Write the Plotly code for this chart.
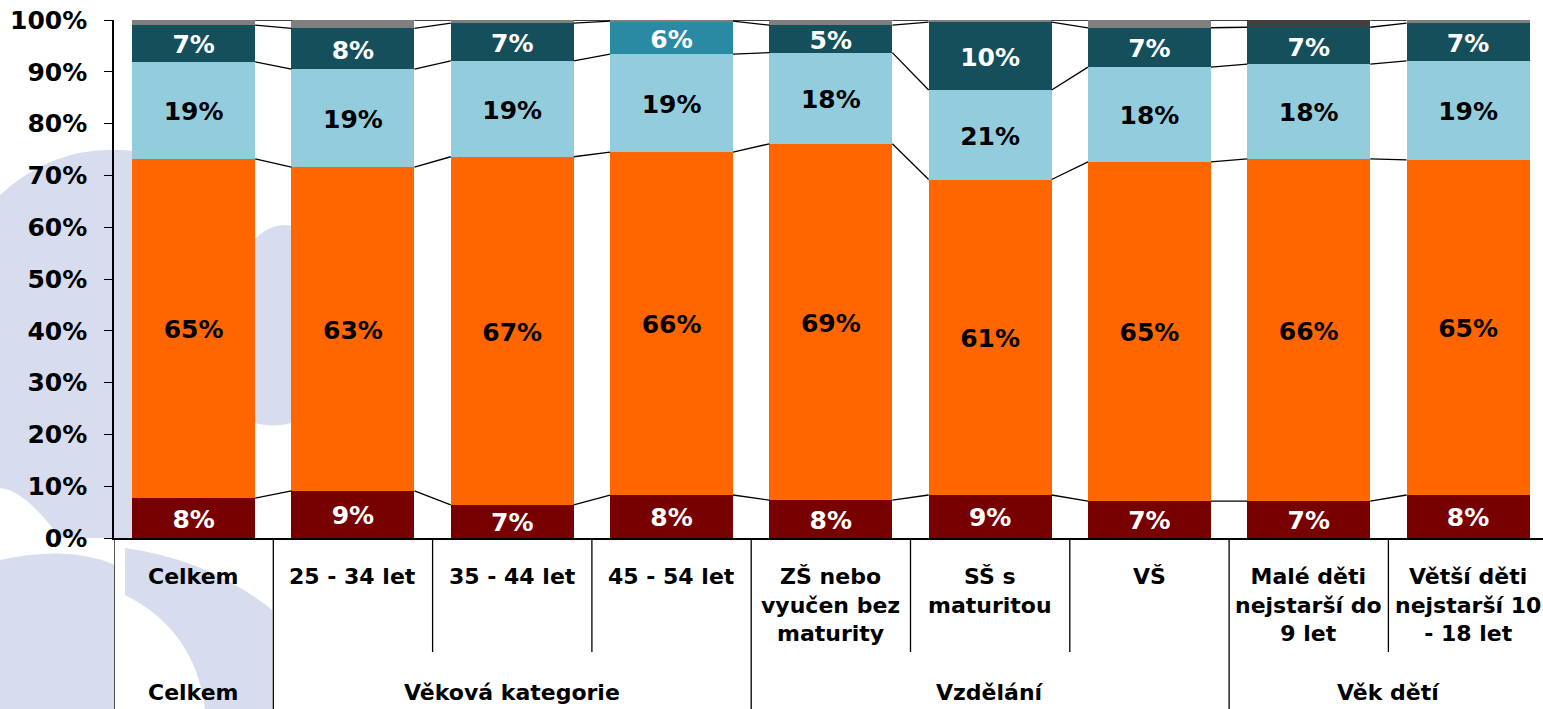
import plotly.graph_objects as go

categories = ["Celkem", "25 - 34 let", "35 - 44 let", "45 - 54 let",
              "ZŠ nebo<br>vyučen bez<br>maturity", "SŠ s<br>maturitou", "VŠ",
              "Malé děti<br>nejstarší do<br>9 let", "Větší děti<br>nejstarší 10<br>- 18 let"]
groups = ["Celkem", "Věková kategorie", "Vzdělání", "Věk dětí"]
group_members = [[0], [1, 2, 3], [4, 5, 6], [7, 8]]

s_red = [7.7, 9.1, 6.4, 8.3, 7.3, 8.3, 7.1, 7.1, 8.3]
s_orange = [65.5, 62.5, 67.2, 66.2, 68.8, 60.9, 65.5, 66.1, 64.7]
s_lblue = [18.7, 18.9, 18.5, 18.9, 17.6, 17.3, 18.3, 18.3, 19.1]
s_teal = [7.1, 7.9, 7.3, 6.4, 5.3, 13.1, 7.6, 7.1, 7.3]
s_grey = [1.0, 1.6, 0.6, 0.2, 1.0, 0.4, 1.5, 1.4, 0.6]

lab_red = [8, 9, 7, 8, 8, 9, 7, 7, 8]
lab_orange = [65, 63, 67, 66, 69, 61, 65, 66, 65]
lab_lblue = [19, 19, 19, 19, 18, 21, 18, 18, 19]
lab_teal = [7, 8, 7, 6, 5, 10, 7, 7, 7]

yticks = [0, 10, 20, 30, 40, 50, 60, 70, 80, 90, 100]
ytick_text = [f"{v}%" for v in yticks]

FONT = "DejaVu Sans"
BW = 0.772
LABEL_DROP = 0.7  # labels sit slightly below segment centre, as in the original
n = len(categories)
xs = list(range(n))

teal_cols = ["#154F5C"] * n
teal_cols[3] = "#2A8AA3"
grey_cols = ["#7F7F7F"] * n
grey_cols[7] = "#404040"

series = [
    (s_red, ["#770000"] * n, lab_red, "white"),
    (s_orange, ["#FF6600"] * n, lab_orange, "black"),
    (s_lblue, ["#93CDDD"] * n, lab_lblue, "black"),
    (s_teal, teal_cols, lab_teal, "white"),
    (s_grey, grey_cols, None, None),
]

fig = go.Figure()
base = [0.0] * n
tops = []
for vals, cols, labs, tcol in series:
    fig.add_trace(go.Bar(x=xs, y=vals, base=base[:], width=BW, marker=dict(color=cols, line=dict(width=0)),
                         showlegend=False, hoverinfo="skip"))
    if labs is not None:
        fig.add_trace(go.Scatter(x=xs, y=[b + v / 2 - LABEL_DROP for b, v in zip(base, vals)], mode="text",
                                 text=[f"{l}%" for l in labs],
                                 textfont=dict(family=FONT, size=25, color=tcol, weight="bold"),
                                 showlegend=False, hoverinfo="skip"))
    base = [b + v for b, v in zip(base, vals)]
    tops.append(base[:])

# connector (series) lines
for lvl in tops:
    cx, cy = [], []
    for i in range(n - 1):
        cx += [i + BW / 2, i + 1 - BW / 2, None]
        cy += [lvl[i], lvl[i + 1], None]
    fig.add_trace(go.Scatter(x=cx, y=cy, mode="lines", line=dict(color="black", width=1.3),
                             showlegend=False, hoverinfo="skip"))

# pixel helpers for decorative watermark
L, T, W, H = 114, 20, 1543 - 114, 518
def px(x): return (x - L) / W
def py(y): return (538 - y) / H
def path(pts):
    s = ""
    for cmd, *c in pts:
        s += cmd + " " + " ".join(f"{px(c[k]):.4f},{py(c[k+1]):.4f}" for k in range(0, len(c), 2)) + " "
    return s + "Z"

WM = "#D7DDEE"
shapes = []
for p in [
    [("M", 0, 195), ("Q", 60, 140, 140, 152), ("L", 140, 538), ("L", 60, 538), ("Q", 25, 490, 0, 488)],
    [("M", 0, 560), ("Q", 70, 545, 115, 565), ("L", 115, 709), ("L", 0, 709)],
    [("M", 125, 548), ("Q", 210, 560, 272, 610), ("L", 272, 709), ("L", 205, 709), ("Q", 195, 630, 125, 595)],
    [("M", 240, 260), ("Q", 265, 215, 300, 228), ("L", 300, 420), ("Q", 270, 432, 240, 418)],
]:
    shapes.append(dict(type="path", xref="paper", yref="paper", path=path(p), fillcolor=WM,
                       line=dict(width=0), layer="below"))

# category separators
inner_bottom = py(652)
outer_bottom = py(712)
group_bounds = {-0.5, 0.5, 3.5, 6.5}
for k in range(n):
    xv = k - 0.5
    yb = outer_bottom if xv in group_bounds else inner_bottom
    shapes.append(dict(type="line", xref="x", yref="paper", x0=xv, x1=xv, y0=0, y1=yb,
                       line=dict(color="black", width=1.3)))

annotations = []
for i, c in enumerate(categories):
    annotations.append(dict(x=i, y=py(562), xref="x", yref="paper", text=c, showarrow=False,
                            yanchor="top", xanchor="center", align="center",
                            font=dict(family=FONT, size=22, color="black", weight="bold")))
for g, mem in zip(groups, group_members):
    annotations.append(dict(x=sum(mem) / len(mem), y=py(692), xref="x", yref="paper", text=g,
                            showarrow=False, yanchor="middle", xanchor="center",
                            font=dict(family=FONT, size=22, color="black", weight="bold")))

fig.update_layout(
    width=1543, height=709,
    margin=dict(l=L, r=0, t=T, b=709 - 538, pad=0, autoexpand=False),
    paper_bgcolor="white", plot_bgcolor="rgba(0,0,0,0)",
    barmode="overlay", bargap=0,
    shapes=shapes, annotations=annotations,
    xaxis=dict(range=[-0.5, -0.5 + W / 159.3], showticklabels=False, ticks="", showgrid=False,
               zeroline=False, showline=True, linecolor="black", linewidth=1.5, automargin=False),
    yaxis=dict(range=[0, 100], tickvals=yticks, ticktext=ytick_text, ticks="outside", ticklen=8,
               tickcolor="black", tickwidth=1.3, showgrid=False, zeroline=False, showline=True,
               linecolor="black", linewidth=1.5, automargin=False, ticklabelstandoff=12,
               tickfont=dict(family=FONT, size=25, color="black", weight="bold")),
)

fig.write_html("out.html", config={"displayModeBar": False},
               post_script="document.body.style.margin='0px';document.body.style.overflow='hidden';")
